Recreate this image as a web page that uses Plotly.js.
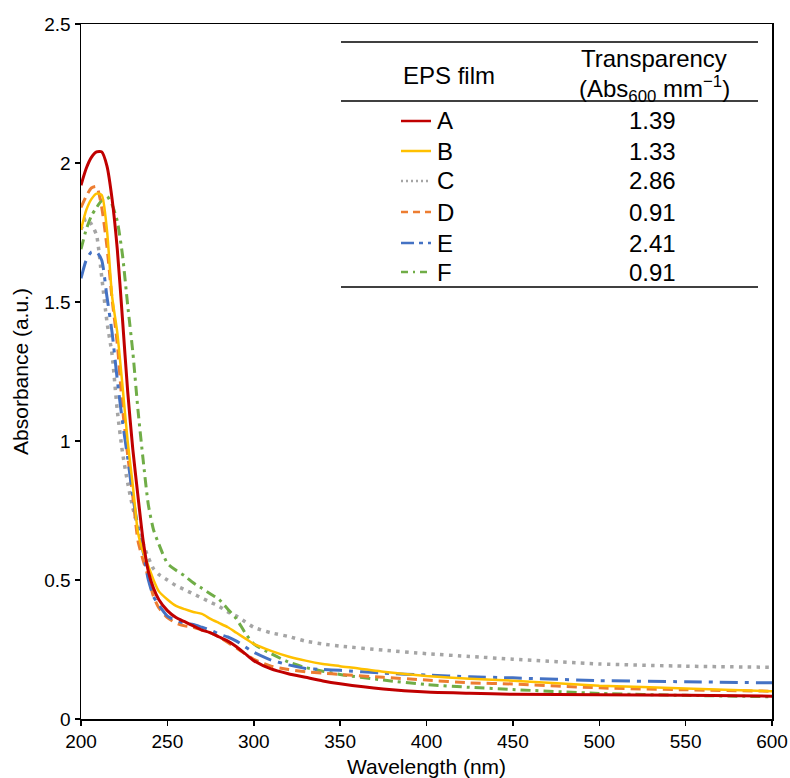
<!DOCTYPE html>
<html>
<head>
<meta charset="utf-8">
<script src="https://cdn.plot.ly/plotly-3.0.1.min.js"></script>
<style>html,body{margin:0;padding:0;background:#fff;}#chart{width:790px;height:778px;}</style>
</head>
<body>
<div id="chart"></div>
<script>
// Wavelength grid (nm)
var wavelength = [200,203,206,209,212,215,218,221,224,227,230,233,236,239,242,245,250,255,260,265,270,275,280,285,290,295,300,310,320,330,340,350,375,400,425,450,500,550,600];

// Absorbance (a.u.) for each EPS film
var filmA = [1.92,1.98,2.02,2.04,2.04,1.99,1.87,1.69,1.44,1.18,0.97,0.80,0.64,0.53,0.47,0.43,0.39,0.365,0.35,0.335,0.32,0.31,0.295,0.28,0.26,0.235,0.21,0.18,0.163,0.15,0.137,0.127,0.108,0.097,0.093,0.089,0.087,0.085,0.082];
var filmB = [1.76,1.83,1.87,1.89,1.885,1.76,1.52,1.39,1.20,1.00,0.84,0.67,0.60,0.55,0.50,0.46,0.43,0.407,0.395,0.385,0.378,0.36,0.345,0.33,0.31,0.29,0.27,0.245,0.225,0.21,0.198,0.19,0.17,0.155,0.145,0.138,0.12,0.11,0.10];
var filmC = [1.76,1.80,1.78,1.74,1.59,1.43,1.31,1.11,0.96,0.85,0.76,0.69,0.63,0.58,0.54,0.52,0.50,0.48,0.465,0.45,0.435,0.42,0.405,0.385,0.37,0.35,0.33,0.31,0.297,0.28,0.27,0.262,0.248,0.235,0.225,0.215,0.198,0.19,0.186];
var filmD = [1.84,1.88,1.91,1.915,1.84,1.70,1.51,1.35,1.12,0.95,0.80,0.64,0.57,0.51,0.44,0.40,0.365,0.345,0.335,0.33,0.32,0.31,0.295,0.275,0.255,0.235,0.215,0.19,0.178,0.17,0.165,0.16,0.15,0.14,0.13,0.126,0.112,0.105,0.10];
var filmE = [1.585,1.65,1.68,1.68,1.65,1.52,1.39,1.22,1.07,0.94,0.80,0.69,0.60,0.50,0.44,0.41,0.37,0.355,0.345,0.34,0.33,0.32,0.305,0.295,0.28,0.26,0.24,0.212,0.195,0.182,0.178,0.175,0.165,0.158,0.152,0.148,0.138,0.134,0.13];
var filmF = [1.69,1.76,1.81,1.84,1.865,1.88,1.85,1.79,1.67,1.49,1.32,1.11,0.93,0.77,0.68,0.63,0.56,0.535,0.515,0.49,0.47,0.45,0.43,0.395,0.36,0.31,0.27,0.235,0.205,0.185,0.172,0.16,0.14,0.124,0.114,0.106,0.092,0.085,0.08];

// Table content
var filmNames = ["A","B","C","D","E","F"];
var transparency = ["1.39","1.33","2.86","0.91","2.41","0.91"];

var FONT = "Liberation Sans, Arial, sans-serif";
var series = [filmA, filmB, filmC, filmD, filmE, filmF];
var styles = [
  {color:"#C00000", width:3, dash:"solid", key:"solid"},
  {color:"#FFC000", width:2.5, dash:"solid", key:"solid"},
  {color:"#A5A5A5", width:3.5, dash:"3.5px,5.3px", key:"2px,3px"},
  {color:"#ED7D31", width:3, dash:"10px,6px", key:"7px,5px"},
  {color:"#4472C4", width:3, dash:"18px,7px,4px,7px", key:"13px,5px,4px,5px"},
  {color:"#70AD47", width:3, dash:"10px,5px,3px,5px", key:"7px,5px,2px,5px"}
];

// Draw order: put red on top
var order = [2,5,3,4,1,0];
var traces = order.map(function(i){
  return {
    x: wavelength, y: series[i], type:"scatter", mode:"lines",
    name: filmNames[i], line:{color:styles[i].color, width:styles[i].width, dash:styles[i].dash, shape:"spline", smoothing:0.6},
    showlegend:false
  };
});

// pixel helpers for table geometry (plot area 81..772 x 24..719)
function px(x){ return (x-81)/691; }
function py(y){ return (719-y)/695; }

var TFS = 24;
var shapes = [];
var annotations = [];
[42,101,287].forEach(function(y){
  shapes.push({type:"line", xref:"paper", yref:"paper", x0:px(341), x1:px(758), y0:py(y), y1:py(y), line:{color:"#000", width:1.5}});
});
annotations.push({xref:"paper", yref:"paper", x:px(449), y:py(75), text:"EPS film", showarrow:false, xanchor:"center", yanchor:"middle", font:{family:FONT, size:TFS, color:"#000"}});
annotations.push({xref:"paper", yref:"paper", x:px(654), y:py(58), text:"Transparency", showarrow:false, xanchor:"center", yanchor:"middle", font:{family:FONT, size:TFS, color:"#000"}});
annotations.push({xref:"paper", yref:"paper", x:px(654), y:py(89), text:"(Abs<sub>600</sub> mm<sup>\u22121</sup>)", showarrow:false, xanchor:"center", yanchor:"middle", font:{family:FONT, size:TFS, color:"#000"}});

var rowY = [121,151,181,212,243,272];
filmNames.forEach(function(n,i){
  var st = styles[i];
  shapes.push({type:"line", xref:"paper", yref:"paper", x0:px(401), x1:px(431), y0:py(rowY[i]), y1:py(rowY[i]),
    line:{color:st.color, width:Math.min(st.width,2.5), dash:st.key}});
  annotations.push({xref:"paper", yref:"paper", x:px(435), y:py(rowY[i]), text:n, showarrow:false, xanchor:"left", yanchor:"middle", font:{family:FONT, size:TFS, color:"#000"}});
  annotations.push({xref:"paper", yref:"paper", x:px(652), y:py(rowY[i]), text:transparency[i], showarrow:false, xanchor:"center", yanchor:"middle", font:{family:FONT, size:TFS, color:"#000"}});
});

var layout = {
  width:790, height:778,
  margin:{l:81, r:18, t:24, b:59},
  paper_bgcolor:"#fff", plot_bgcolor:"#fff",
  font:{family:FONT, color:"#000"},
  xaxis:{
    range:[200,600], dtick:50, tick0:200, showgrid:false, zeroline:false,
    showline:true, mirror:true, linecolor:"#000", linewidth:1.5,
    ticks:"outside", ticklen:5, tickwidth:1.5, tickcolor:"#000",
    tickfont:{family:FONT, size:19, color:"#000"},
    title:{text:"Wavelength (nm)", font:{family:FONT, size:21, color:"#000"}, standoff:8},
    automargin:false
  },
  yaxis:{
    range:[0,2.5], dtick:0.5, tick0:0, showgrid:false, zeroline:false,
    showline:true, mirror:true, linecolor:"#000", linewidth:1.5,
    ticks:"outside", ticklen:5, tickwidth:1.5, tickcolor:"#000",
    tickfont:{family:FONT, size:19, color:"#000"},
    title:{text:"Absorbance (a.u.)", font:{family:FONT, size:21, color:"#000"}, standoff:10},
    automargin:false
  },
  shapes:shapes,
  annotations:annotations,
  showlegend:false
};

Plotly.newPlot("chart", traces, layout, {displayModeBar:false, staticPlot:true});
</script>
</body>
</html>
